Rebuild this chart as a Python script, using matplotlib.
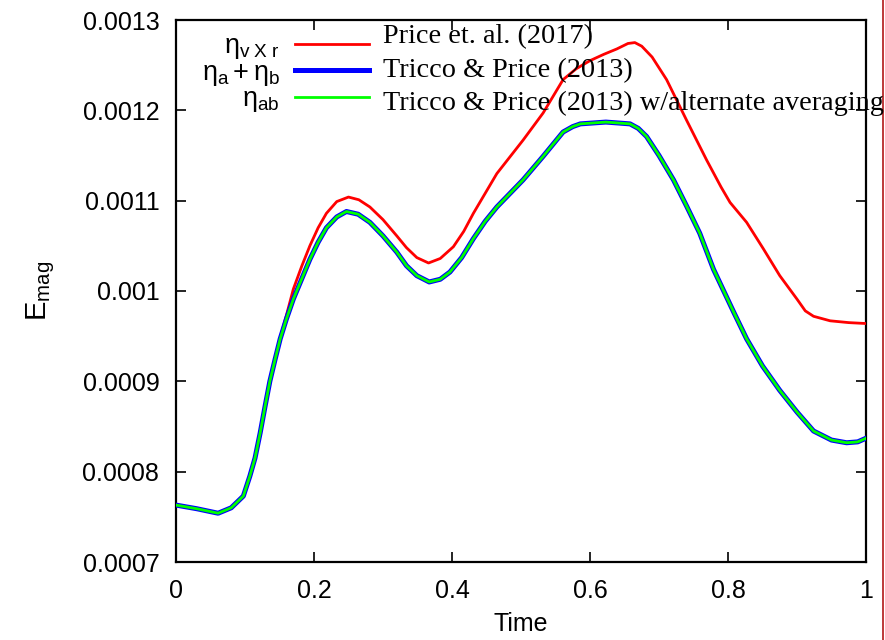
import matplotlib
matplotlib.use('Agg')
import matplotlib.pyplot as plt
from matplotlib.lines import Line2D

# --- data ---
time_tp = [0.0, 0.03, 0.061, 0.08, 0.0976, 0.107, 0.1145, 0.122, 0.129, 0.136,
           0.1435, 0.151, 0.160, 0.170, 0.182, 0.194, 0.206, 0.218, 0.233, 0.247,
           0.264, 0.281, 0.300, 0.320, 0.334, 0.349, 0.367, 0.383, 0.397, 0.414,
           0.431, 0.448, 0.465, 0.503, 0.532, 0.561, 0.575, 0.586, 0.623, 0.658,
           0.670, 0.682, 0.700, 0.721, 0.740, 0.759, 0.779, 0.808, 0.827, 0.850,
           0.875, 0.900, 0.924, 0.950, 0.972, 0.988, 1.0]
emag_tp = [0.000763, 0.000759, 0.000754, 0.000760, 0.000773, 0.000795, 0.000815,
           0.000843, 0.000872, 0.000900, 0.000924, 0.000947, 0.000969, 0.000991,
           0.001013, 0.001035, 0.001054, 0.001070, 0.001082, 0.001088, 0.001085,
           0.001076, 0.001061, 0.001043, 0.001028, 0.001017, 0.001010, 0.001013,
           0.001021, 0.001037, 0.001058, 0.001077, 0.001093, 0.001123, 0.001149,
           0.001176, 0.001182, 0.001185, 0.001187, 0.001185, 0.001180, 0.001171,
           0.001150, 0.001123, 0.001094, 0.001064, 0.001024, 0.000977, 0.000947,
           0.000917, 0.000890, 0.000866, 0.000845, 0.000835, 0.000832, 0.000833,
           0.000837]
emag_tp_alt = list(emag_tp)

time_price = [0.0, 0.03, 0.061, 0.08, 0.0976, 0.107, 0.1145, 0.122, 0.129, 0.136,
              0.1435, 0.151, 0.160, 0.170, 0.182, 0.194, 0.206, 0.218, 0.233, 0.250,
              0.265, 0.281, 0.300, 0.320, 0.334, 0.349, 0.366, 0.383, 0.402, 0.417,
              0.431, 0.448, 0.465, 0.503, 0.532, 0.561, 0.580, 0.600, 0.620, 0.639,
              0.655, 0.665, 0.675, 0.690, 0.711, 0.740, 0.769, 0.790, 0.803, 0.827,
              0.851, 0.875, 0.900, 0.912, 0.924, 0.948, 0.975, 1.0]
emag_price = [0.000763, 0.000759, 0.000754, 0.000760, 0.000773, 0.000795, 0.000815,
              0.000843, 0.000872, 0.000900, 0.000924, 0.000948, 0.000973, 0.001002,
              0.001027, 0.001050, 0.001070, 0.001086, 0.001099, 0.001104, 0.001101,
              0.001093, 0.001079, 0.001061, 0.001048, 0.001037, 0.001031, 0.001036,
              0.001049, 0.001066, 0.001086, 0.001108, 0.001130, 0.001167, 0.001197,
              0.001234, 0.001246, 0.001255, 0.001262, 0.001268, 0.001274, 0.001275,
              0.001271, 0.001259, 0.001234, 0.001189, 0.001145, 0.001115, 0.001098,
              0.001076, 0.001047, 0.001017, 0.000991, 0.000978, 0.000972, 0.000967,
              0.000965, 0.000964]

left_labels = [r'$\eta_{\rm v\ X\ r}$', r'$\eta_{\rm a} + \eta_{\rm b}$', r'$\eta_{\rm ab}$']
right_labels = ['Price et. al. (2017)', 'Tricco & Price (2013)',
                'Tricco & Price (2013) w/alternate averaging']

xticks = [0, 0.2, 0.4, 0.6, 0.8, 1.0]
xticklabels = ['0', '0.2', '0.4', '0.6', '0.8', '1']
yticks = [0.0007, 0.0008, 0.0009, 0.0010, 0.0011, 0.0012, 0.0013]
yticklabels = ['0.0007', '0.0008', '0.0009', '0.001', '0.0011', '0.0012', '0.0013']

plt.rcParams['font.family'] = ['Liberation Sans', 'DejaVu Sans']
plt.rcParams['mathtext.fontset'] = 'custom'
plt.rcParams['mathtext.rm'] = 'Liberation Sans'
plt.rcParams['mathtext.it'] = 'Liberation Sans'

W, H = 885, 640
fig = plt.figure(figsize=(W / 100, H / 100), dpi=100)
ax = fig.add_axes([176 / W, 1 - 562 / H, (866 - 176) / W, (562 - 20) / H])

l_red, = ax.plot(time_price, emag_price, color='#ff0000', lw=2.0, zorder=3)
l_blue, = ax.plot(time_tp, emag_tp, color='#0000ff', lw=3.6, zorder=4)
l_green, = ax.plot(time_tp, emag_tp_alt, color='#00ff00', lw=2.0, zorder=5)

ax.set_xlim(0, 1)
ax.set_ylim(0.0007, 0.0013)
ax.set_xticks(xticks)
ax.set_xticklabels(xticklabels)
ax.set_yticks(yticks)
ax.set_yticklabels(yticklabels)
ax.tick_params(direction='in', length=7, width=1.2, top=True, right=True,
               labelsize=18, pad=12)
ax.tick_params(axis='x', pad=12.5)
for sp in ax.spines.values():
    sp.set_linewidth(1.6)

ax.set_xlabel('Time', fontsize=18, labelpad=6)
ax.set_ylabel(r'$\rm E_{mag}$', fontsize=21, labelpad=18)

leg = ax.legend([l_red, l_blue, l_green], left_labels, loc='upper right',
                bbox_to_anchor=(369 / W, 1 - 33 / H), bbox_transform=fig.transFigure,
                markerfirst=False, frameon=False, fontsize=19.5, handlelength=2.75,
                handletextpad=0.55, labelspacing=-0.05, borderpad=0, borderaxespad=0)

for i, txt in enumerate(right_labels):
    fig.text(383 / W, 1 - [43.5, 77, 110][i] / H, txt, fontsize=20.3,
             family='Liberation Serif', va='baseline', ha='left', zorder=10)

# thin red edge line at the right border of the screenshot
fig.add_artist(Line2D([882.5 / W, 882.5 / W], [0, 1], color='#b01818', lw=1.2))

fig.savefig('out.png', dpi=100)
